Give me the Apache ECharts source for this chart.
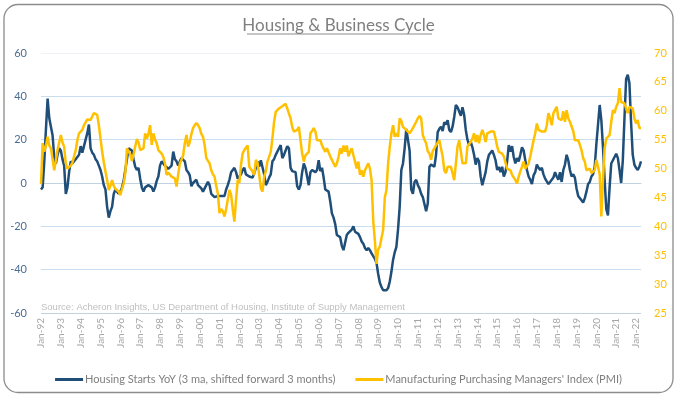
<!DOCTYPE html>
<html>
<head>
<meta charset="utf-8">
<title>Housing & Business Cycle</title>
<script src="https://cdn.jsdelivr.net/npm/echarts@6/dist/echarts.min.js"></script>
<style>
  html, body { margin: 0; padding: 0; background: #fff; }
  #chart { width: 677px; height: 397px; }
</style>
</head>
<body>
<div id="chart"></div>
<script>
// ---- data (monthly, Jan-92 .. Apr-22) ----
var startYear = 1992;

// Housing starts YoY %, 3mma shifted forward 3 months (left axis)
var housing = [
  -3, -2, 10, 25, 39, 30, 26, 22, 12, 9, 13, 16,
  15, 11, 8, -5, -2, 5, 10, 9, 10, 11, 12, 13,
  17, 14, 17, 20, 23, 27, 16, 14, 13, 11, 10, 8,
  6, 3, -1, -3, -11, -16, -13, -11, -5, -3, -4, -5,
  -4, -2, 1, 6, 11, 16, 16, 15, 11, 7.5, 6, 7,
  2, -2, -4, -2, -1.5, -1, -1.5, -2, -4, -2, 1, 3,
  8, 10, 9, 8, 7.5, 6.5, 6, 8, 14.5, 11, 10, 8,
  10, 11.5, 11.5, 10, 6, 5, 3.5, -1.5, 0, 0.5, 1.5, -1,
  -1.5, -2.5, -4, -2.5, -1, 0.5, -1, -5, -5.5, -6.5, -6.5, -6,
  -6.5, -6, -6.5, -6, -3, -1, 1.5, 5, 6, 7, 5, 2,
  1.5, 4, 6, 7, 4, 3.5, 3, 2.5, 2.5, 4.5, 7, 10,
  7.5, 10.5, 10, 4, -1, 0.5, 2.5, 4, 10, 11, 13, 14.5,
  15, 17.5, 11.5, 13, 15, 17, 16, 7, 5.5, 5, 5, -1.5,
  -3, -1, 5, 9, 7, 7.5, -1, 5, 6, 5.5, 5, 6,
  10.5, 5.5, 7, 2.5, -3, -3.5, -4, -8.5, -14, -16, -19, -24,
  -24.5, -25, -29, -31, -31, -24, -23, -22.5, -21.5, -20, -22.5, -23,
  -23.5, -25, -27, -28, -30, -31, -30, -31, -32.5, -33, -35, -37,
  -42, -46, -48, -49.5, -50, -49.5, -48.5, -45.5, -41, -35.5, -32, -29.5,
  -21.5, -11, 6, 9, 16, 25, 24.5, 15, -3, -5, 0.5, 1.5,
  -1, -2.5, -5, -6.5, -7, -13, -9.5, 7.5, 8.5, 8, 7.5, 13,
  23.5, 25, 26, 24, 28, 27, 29, 24.5, 23.5, 26, 30.5, 36,
  35, 33, 31, 35, 31.5, 24.5, 20, 17.5, 19, 16.5, 13, 8.5,
  11.5, 10, 3, -1, -1.5, 5, 10, 13, 14, 15, 13, 10.5,
  6, 7.5, 5, 7.5, 3, 5, 10, 17.5, 14.5, 17, 12, 9,
  11.5, 10, 13, 16.5, 15, 10.5, 6, 3, 1.5, -0.5, 3.5, 5,
  8.5, 7, 6, 7, 4, 2, 2.5, -0.5, 0.5, 0.5, 2.5, 5,
  3, 1.5, 5, 0.5, 6, 8.5, 13, 10.5, 6, 3, 4, 2.5,
  -2.5, -6, -6.5, -8, -9, -7, -4, -0.5, 0.5, 3, 4, 7.5,
  18, 27, 36, 29, 16.5, 1.5, -12, -15, -2, 9, 10.5, 10,
  13.5, 11.5, 6, 0, 10.5, 30, 48, 50, 46, 28, 13, 8.5,
  7, 6, 7.5, 10
];

// ISM manufacturing PMI (right axis)
var pmi = [
  47.3, 54.4, 52.9, 54, 55.5, 54, 53.5, 53.2, 49.7, 50, 53.2, 54.5,
  55.8, 54.5, 53.8, 50.9, 50, 49.7, 50.5, 51, 51.1, 53.2, 54.9, 56.1,
  56.4, 56.7, 57.5, 58, 58.5, 58.7, 58.4, 59, 59.6, 59.4, 59.3, 57.5,
  55.2, 52.9, 51.1, 49.5, 48, 46.3, 47, 48, 47, 46.5, 46.2, 46,
  45.4, 46.5, 47.4, 49.2, 53.5, 53, 52.4, 51.3, 52.5, 53.8, 55.1, 54.5,
  53.2, 53.3, 53.5, 56.1, 55.2, 56, 57.5, 54.1, 56.1, 55, 54.4, 53.2,
  53, 52.6, 52, 50.9, 48.9, 49.3, 49.5, 48.6, 48.5, 48.3, 46.9, 49,
  50.9, 51.5, 52.3, 54.4, 55.8, 53.8, 54.6, 56, 57, 57.5, 57.9, 57.5,
  57, 56, 55.5, 54.1, 51.8, 51.5, 50.9, 49.7, 49, 48.6, 47, 45.7,
  42.3, 43, 42.6, 41.7, 43, 44.6, 46.3, 45.5, 43, 40.8, 44.6, 48,
  47.5, 50.7, 52.6, 53.2, 53.5, 54, 50.3, 50, 49.5, 48.9, 51.5, 51,
  49, 46.6, 46, 48.6, 49.5, 51.2, 51.5, 52.9, 55.2, 58.1, 59.8, 60,
  60.4, 60.5, 60.8, 61, 61.2, 60.4, 59.5, 58.7, 57.2, 56.4, 56.5, 56.7,
  57.2, 54.9, 52.6, 51.2, 52.3, 52.5, 52.9, 56.1, 56.5, 57, 56.4, 54.9,
  54.9, 54.9, 54, 53.8, 52.9, 53.5, 53.8, 52.1, 51.5, 51.2, 50.3, 50.9,
  52, 53.5, 52.6, 54, 52.9, 54, 52.1, 52.9, 53.5, 52.3, 51.2, 50,
  51.2, 48.9, 49.7, 48.6, 49.7, 50, 50.9, 50, 48, 41, 37.5, 33.5,
  36, 36.5, 36.8, 39.4, 45, 46.3, 50.9, 53.8, 56.1, 57.5, 55.5, 56.1,
  55.5, 58.7, 58.2, 57.2, 57, 56.7, 56.4, 56.1, 56.4, 57, 57.2, 58.1,
  58.7, 59.1, 58.7, 55.8, 55, 54.4, 53, 52.6, 51.5, 53, 53.5, 54,
  54.5, 54.9, 55.2, 52.1, 49.7, 49.2, 50.3, 50.5, 50.3, 49.2, 48, 50.9,
  53.8, 54.9, 53, 50.9, 50.6, 50.9, 53.8, 54.1, 54.6, 55.2, 56.1, 54.6,
  55.8, 54.4, 55.8, 56.7, 55.8, 54.6, 56.1, 55.8, 56.4, 56.1, 56.4, 55.2,
  53.8, 52.9, 52.9, 52.6, 52.1, 51.8, 50, 50, 49.7, 48.9, 48.6, 48,
  47.4, 48.6, 49.5, 50.3, 51.2, 50, 49.7, 50.9, 52.1, 53.5, 54.9, 56.1,
  57.8, 56.7, 57, 56.4, 56.1, 56.4, 57.5, 59.6, 58.7, 57.5, 59.6, 59.9,
  60.7, 58.7, 58.7, 58.4, 59.9, 58.1, 60.1, 58.7, 58.1, 58.4, 56.5, 54.9,
  54.6, 54.9, 54.1, 53.2, 51.8, 51.2, 49.7, 49.7, 50, 49.2, 48.9, 49.7,
  51.5, 50.3, 49, 41.7, 48, 53.5, 55.2, 55.5, 55.8, 58.1, 60.1, 59.6,
  60.7, 61.3, 63.9, 61.5, 61.8, 61.3, 60.4, 59.6, 60.7, 60.7, 60.4, 58.7,
  57.8, 58.4, 57, 57
];

var leftTicks = [-60, -40, -20, 0, 20, 40, 60];
var rightTicks = [25, 30, 35, 40, 45, 50, 55, 60, 65, 70];

var seriesNames = [
  'Housing Starts YoY (3 ma, shifted forward 3 months)',
  "Manufacturing Purchasing Managers' Index (PMI)"
];

// month labels like "Jan-92"
var monthNames = ['Jan','Feb','Mar','Apr','May','Jun','Jul','Aug','Sep','Oct','Nov','Dec'];
var categories = [];
for (var i = 0; i < housing.length; i++) {
  var yr = (startYear + Math.floor(i / 12)) % 100;
  categories.push(monthNames[i % 12] + '-' + (yr < 10 ? '0' + yr : '' + yr));
}

var chart = echarts.init(document.getElementById('chart'), null, { renderer: 'canvas' });

var option = {
  backgroundColor: '#ffffff',
  animation: false,
  title: {
    text: 'Housing & Business Cycle',
    left: 'center',
    top: 12,
    textStyle: { fontFamily: 'Lato', fontSize: 17, fontWeight: 'normal', color: '#7f7f7f' }
  },
  graphic: [
    { // rounded frame
      type: 'rect', silent: true, z: 100,
      shape: { x: 4, y: 4.5, width: 669, height: 388, r: 14 },
      style: { fill: null, stroke: '#8c8c8c', lineWidth: 1.3 }
    },
    { // title underline
      type: 'line', silent: true,
      shape: { x1: 247, y1: 34, x2: 432, y2: 34 },
      style: { stroke: '#8c8c8c', lineWidth: 1 }
    },
    {
      type: 'text', silent: true, left: 41, top: 302,
      style: {
        text: 'Source: Acheron Insights, US Department of Housing, Institute of Supply Management',
        fill: '#bfbfbf', font: '9.5px "Liberation Sans", Arial, sans-serif'
      }
    }
  ],
  legend: {
    bottom: 7,
    left: 'center',
    itemWidth: 28,
    itemHeight: 3,
    itemGap: 20,
    icon: 'rect',
    textStyle: { fontFamily: 'Lato', fontSize: 11, color: '#7f7f7f', padding: [0, 0, 0, -3] },
    data: seriesNames
  },
  grid: { left: 41, right: 36, top: 53, bottom: 84, containLabel: false },
  xAxis: {
    type: 'category',
    data: categories,
    boundaryGap: false,
    axisLine: { lineStyle: { color: '#c3d2e0', width: 1 } },
    axisTick: { show: false },
    splitLine: { show: false },
    axisLabel: {
      rotate: 90,
      margin: 5,
      interval: function (idx) { return idx % 12 === 0; },
      color: '#a6a6a6',
      fontFamily: 'Lato',
      fontSize: 10
    }
  },
  yAxis: [
    {
      type: 'value',
      min: leftTicks[0],
      max: leftTicks[leftTicks.length - 1],
      interval: leftTicks[1] - leftTicks[0],
      axisLine: { show: false },
      axisTick: { show: false },
      axisLabel: { color: '#4a6d93', fontFamily: 'Lato', fontSize: 11, margin: 14 },
      splitLine: {
        lineStyle: {
          color: ['#c3d2e0', '#c9ddf0', '#c9ddf0', '#c9ddf0', '#c9ddf0', '#c9ddf0', '#eef2f6'],
          width: 1
        }
      }
    },
    {
      type: 'value',
      min: rightTicks[0],
      max: rightTicks[rightTicks.length - 1],
      interval: rightTicks[1] - rightTicks[0],
      position: 'right',
      axisLine: { show: false },
      axisTick: { show: false },
      axisLabel: { color: '#ffc000', fontFamily: 'Lato', fontSize: 11, margin: 13 },
      splitLine: { show: false }
    }
  ],
  series: [
    {
      name: seriesNames[0],
      type: 'line',
      yAxisIndex: 0,
      data: housing,
      showSymbol: false,
      symbol: 'none',
      lineStyle: { color: '#1f4e79', width: 2.5 },
      itemStyle: { color: '#1f4e79' },
      z: 2
    },
    {
      name: seriesNames[1],
      type: 'line',
      yAxisIndex: 1,
      data: pmi,
      showSymbol: false,
      symbol: 'none',
      lineStyle: { color: '#ffc000', width: 2.5 },
      itemStyle: { color: '#ffc000' },
      z: 3
    }
  ]
};

chart.setOption(option);
</script>
</body>
</html>
